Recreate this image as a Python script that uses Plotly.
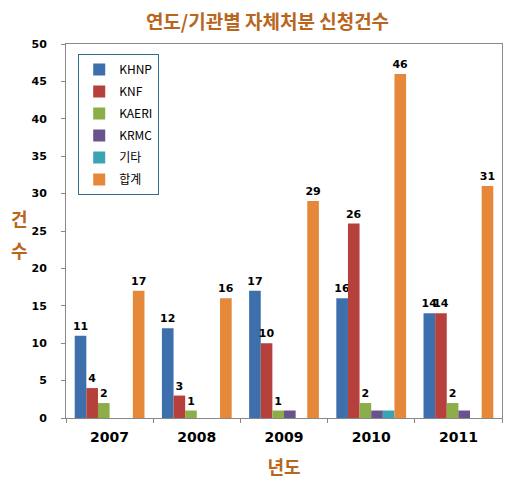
import plotly.graph_objects as go

years = ["2007", "2008", "2009", "2010", "2011"]
series_names = ["KHNP", "KNF", "KAERI", "KRMC", "기타", "합계"]
khnp = [11, 12, 17, 16, 14]
knf = [4, 3, 10, 26, 14]
kaeri = [2, 1, 1, 2, 2]
krmc = [0, 0, 1, 1, 1]
etc = [0, 0, 0, 1, 0]
total = [17, 16, 29, 46, 31]
show_labels = [True, True, True, False, False, True]

values = [khnp, knf, kaeri, krmc, etc, total]
colors = ["#3C6FAB", "#B5403C", "#8CAE48", "#6A528C", "#3AA3B4", "#E6883A"]

KR = "Noto Sans CJK KR"
accent = "#B8661E"

fig = go.Figure()
for i, (name, vals, col, lab) in enumerate(zip(series_names, values, colors, show_labels)):
    fig.add_trace(go.Bar(
        x=years, y=vals, name=name, marker_color=col, marker_line_width=0,
        text=[str(v) for v in vals] if lab else None,
        textposition="outside" if lab else "none",
        constraintext="none",
        textfont=dict(family="DejaVu Sans", size=11, color="black", weight="bold"),
        cliponaxis=False, legendgroup=name,
    ))

fig.update_layout(
    width=519, height=477,
    margin=dict(l=58, r=25, t=36, b=67),
    paper_bgcolor="white", plot_bgcolor="white",
    barmode="group", bargap=0.2, bargroupgap=0,
    title=dict(text="<b>연도/기관별 자체처분 신청건수</b>", x=0.5, xanchor="center",
               y=0.97, yanchor="middle",
               font=dict(family=KR, size=19, color=accent)),
    showlegend=True,
    legend=dict(x=0.028, y=0.973, xanchor="left", yanchor="top",
                bgcolor="white", bordercolor="#2E6E8E", borderwidth=1,
                font=dict(family=KR, size=12, color="black"),
                tracegroupgap=3, itemwidth=30),
    xaxis=dict(type="category", showline=True, linecolor="#888888", linewidth=1,
               mirror=True, ticks="outside", tickson="boundaries", ticklen=4,
               tickcolor="#888888", ticklabelstandoff=6,
               tickfont=dict(family="DejaVu Sans", size=14, color="black", weight="bold"),
               title=dict(text="<b>년도</b>", font=dict(family=KR, size=18, color=accent),
                          standoff=17)),
    yaxis=dict(range=[0, 50], dtick=5, showgrid=False, zeroline=False,
               showline=True, linecolor="#888888", linewidth=1, mirror=True,
               ticks="outside", ticklen=4, tickcolor="#888888",
               ticklabelstandoff=12,
               tickfont=dict(family="DejaVu Sans", size=11, color="black", weight="bold")),
)

for ch, yp in (("건", 0.535), ("수", 0.449)):
    fig.add_annotation(text="<b>" + ch + "</b>", xref="paper", yref="paper",
                       x=-0.131, y=yp, xanchor="left", yanchor="middle",
                       showarrow=False,
                       font=dict(family=KR, size=18, color=accent))

fig.write_html("out.html")
